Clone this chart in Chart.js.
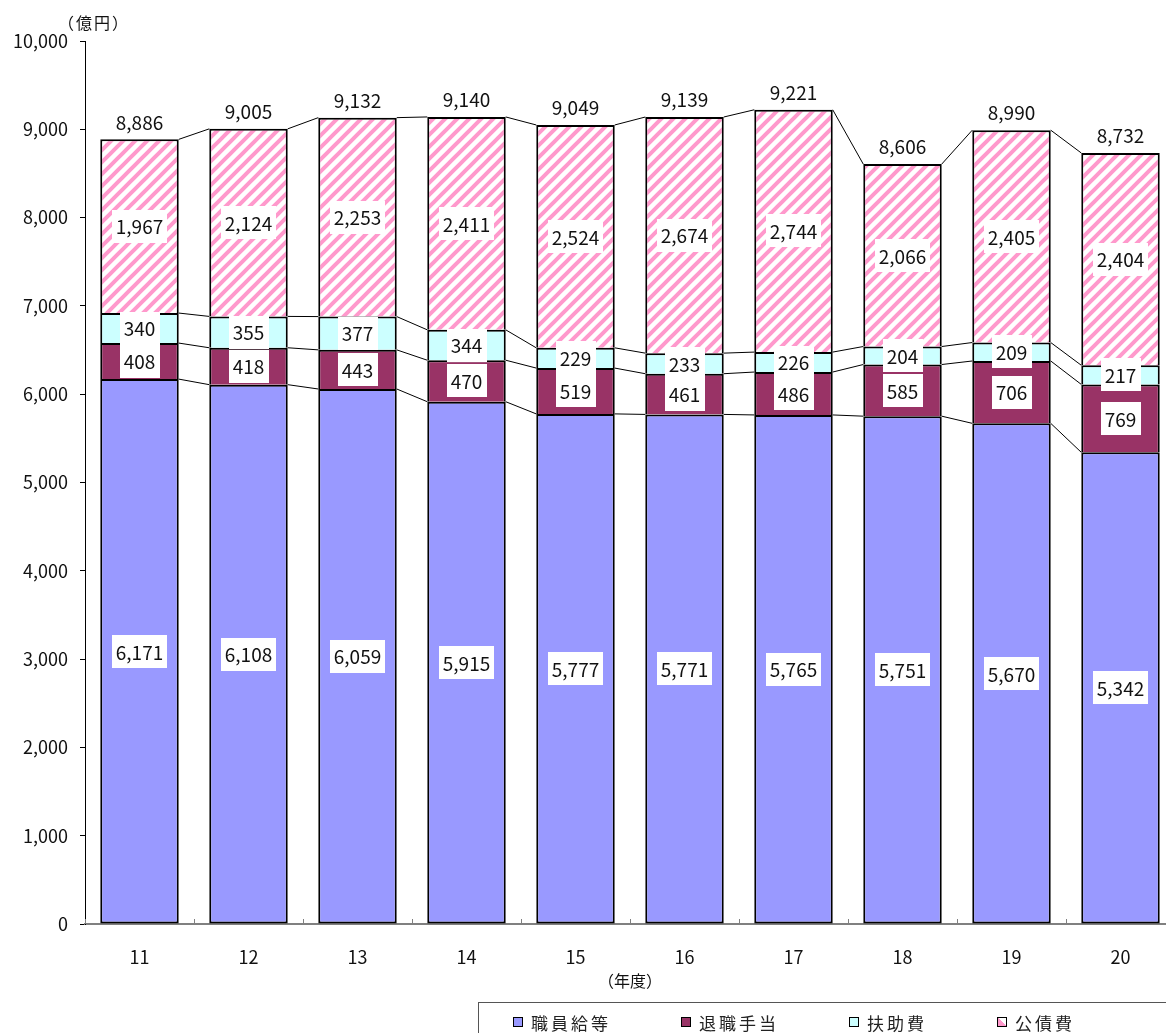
<!DOCTYPE html>
<html lang="ja">
<head>
<meta charset="utf-8">
<title>人件費・公債費の推移</title>
<script src="https://cdn.jsdelivr.net/npm/chart.js@4.4.1/dist/chart.umd.min.js"></script>
<style>
	html, body { margin: 0; padding: 0; overflow: hidden; background: #fff; }
	#wrap { position: relative; width: 1176px; height: 1033px; }
	#graphique { position: absolute; left: 0; top: 0; }
	#legende {
		position: absolute; left: 478px; top: 1002px; width: 760px; height: 60px;
		border-top: 1px solid #555; border-left: 1px solid #555;
		padding: 9px 0 0 34px; box-sizing: border-box;
		font-family: "Noto Sans CJK JP", sans-serif; font-size: 17px; color: #222;
		display: flex;
	}
	#legende .item { display: flex; align-items: center; height: 20px; margin-right: 70px; }
	#legende .carre { width: 8px; height: 8px; border: 1px solid #000; margin-right: 8px; }
	#legende .texte { letter-spacing: 3px; }
</style>
</head>
<body>
<div id="wrap">
	<canvas id="graphique" width="1176" height="1033"></canvas>
	<div id="legende"></div>
</div>
<script>
// Années (平成) et montants en 億円
const annees = ["11", "12", "13", "14", "15", "16", "17", "18", "19", "20"];
const salaires = [6171, 6108, 6059, 5915, 5777, 5771, 5765, 5751, 5670, 5342];
const retraites = [408, 418, 443, 470, 519, 461, 486, 585, 706, 769];
const aides = [340, 355, 377, 344, 229, 233, 226, 204, 209, 217];
const dette = [1967, 2124, 2253, 2411, 2524, 2674, 2744, 2066, 2405, 2404];
const nomsSeries = ["職員給等", "退職手当", "扶助費", "公債費"];

const police = '"Noto Sans CJK JP", sans-serif';

// Motif hachuré rose pour le 公債費
function creerHachures() {
	const t = 12;
	const tuile = document.createElement("canvas");
	tuile.width = t;
	tuile.height = t;
	const c = tuile.getContext("2d");
	c.fillStyle = "#ffffff";
	c.fillRect(0, 0, t, t);
	c.strokeStyle = "#ff99cc";
	c.lineWidth = 4;
	c.beginPath();
	c.moveTo(-t / 2, t / 2); c.lineTo(t / 2, -t / 2);
	c.moveTo(0, t); c.lineTo(t, 0);
	c.moveTo(t / 2, t * 1.5); c.lineTo(t * 1.5, t / 2);
	c.stroke();
	return c.createPattern(tuile, "repeat");
}
const ctx = document.querySelector("#graphique").getContext("2d");
const hachures = creerHachures();

function formater(v) {
	return v.toLocaleString("en-US");
}

// Lignes de liaison entre barres + étiquettes des valeurs
const pluginEtiquettes = {
	id: "etiquettes",
	afterDatasetsDraw(chart) {
		const c = chart.ctx;
		const nb = chart.data.datasets.length;

		c.save();
		c.strokeStyle = "#000";
		c.lineWidth = 1;
		for (let d = 0; d < nb; d++) {
			const barres = chart.getDatasetMeta(d).data;
			for (let i = 0; i < barres.length - 1; i++) {
				const a = barres[i], b = barres[i + 1];
				c.beginPath();
				c.moveTo(a.x + a.width / 2, a.y);
				c.lineTo(b.x - b.width / 2, b.y);
				c.stroke();
			}
		}

		// petites graduations vers le haut sur l'axe des x
		const ex = chart.scales.x;
		c.strokeStyle = "#808080";
		for (let i = 0; i <= annees.length; i++) {
			const px = Math.round(ex.left + i * ex.width / annees.length) + 0.5;
			c.beginPath();
			c.moveTo(px, ex.top);
			c.lineTo(px, ex.top - 5);
			c.stroke();
		}

		c.font = "19px " + police;
		c.textAlign = "center";
		c.textBaseline = "middle";
		for (let d = 0; d < nb; d++) {
			const valeurs = chart.data.datasets[d].data;
			chart.getDatasetMeta(d).data.forEach((barre, i) => {
				const texte = formater(valeurs[i]);
				const cy = (barre.y + barre.base) / 2;
				const w = c.measureText(texte).width + 8;
				const h = 33;
				c.fillStyle = "#fff";
				c.fillRect(Math.round(barre.x - w / 2), Math.round(cy - h / 2), Math.round(w), h);
				c.fillStyle = "#111";
				c.fillText(texte, barre.x, cy + 1);
			});
		}

		// total au-dessus de chaque barre
		const dernier = chart.getDatasetMeta(nb - 1).data;
		dernier.forEach((barre, i) => {
			let total = 0;
			for (let d = 0; d < nb; d++) total += chart.data.datasets[d].data[i];
			c.fillStyle = "#111";
			c.fillText(formater(total), barre.x, barre.y - 17);
		});

		// unité de l'axe vertical
		c.font = "16px " + police;
		c.letterSpacing = "2px";
		c.fillText("（億円）", 94, 23);
		c.restore();
	}
};

// bordure basse seulement pour le premier segment, pour ne pas doubler les traits
const jeux = [
	{ label: nomsSeries[0], data: salaires, backgroundColor: "#9999ff" },
	{ label: nomsSeries[1], data: retraites, backgroundColor: "#993366" },
	{ label: nomsSeries[2], data: aides, backgroundColor: "#ccffff" },
	{ label: nomsSeries[3], data: dette, backgroundColor: hachures }
].map((j, i) => Object.assign(j, {
	borderColor: "#000",
	borderWidth: { top: 2, left: 2, right: 2, bottom: i === 0 ? 2 : 0 },
	borderSkipped: false,
	barPercentage: 0.72,
	categoryPercentage: 1
}));

const graphique = new Chart(ctx, {
	type: "bar",
	data: { labels: annees, datasets: jeux },
	options: {
		responsive: false,
		animation: false,
		devicePixelRatio: 1,
		layout: { padding: { top: 41, left: 0, right: 1, bottom: 39 } },
		plugins: {
			legend: { display: false },
			tooltip: { enabled: false }
		},
		scales: {
			x: {
				stacked: true,
				grid: { display: false },
				border: { display: true, color: "#808080", width: 2 },
				ticks: { color: "#111", font: { family: police, size: 18 }, padding: 14, maxRotation: 0 },
				title: {
					display: true, text: "（年度）", color: "#111",
					font: { family: police, size: 16 }, padding: { top: 0, bottom: 3 }
				},
				afterFit(scale) { scale.height = 70; }
			},
			y: {
				stacked: true,
				min: 0,
				max: 10000,
				grid: { display: true, drawOnChartArea: false, drawTicks: true, tickLength: 5, color: "#000" },
				border: { display: true, color: "#000", width: 1 },
				ticks: {
					stepSize: 1000,
					color: "#111",
					padding: 12,
					font: { family: police, size: 18 },
					callback: v => formater(v)
				},
				afterFit(scale) { scale.width = 85; }
			}
		}
	},
	plugins: [pluginEtiquettes]
});

// Légende en HTML
const legende = document.querySelector("#legende");
jeux.forEach((j, i) => {
	const item = document.createElement("div");
	item.className = "item";
	const carre = document.createElement("span");
	carre.className = "carre";
	carre.style.background = i === 3
		? "linear-gradient(45deg, #ff99cc 50%, #ffffff 50%)"
		: j.backgroundColor;
	const texte = document.createElement("span");
	texte.className = "texte";
	texte.textContent = j.label;
	item.appendChild(carre);
	item.appendChild(texte);
	legende.appendChild(item);
});
</script>
</body>
</html>
